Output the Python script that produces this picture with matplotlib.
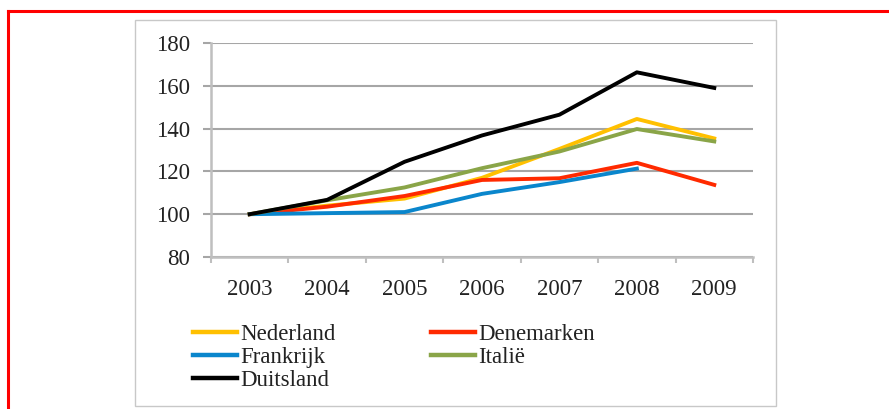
import matplotlib.pyplot as plt
from matplotlib.lines import Line2D
from matplotlib.patches import Rectangle

years = ['2003', '2004', '2005', '2006', '2007', '2008', '2009']
nederland = [100, 104, 107.3, 117, 130.5, 144.5, 135.4]
denemarken = [100, 103.5, 108.5, 116, 116.8, 124, 113.7]
frankrijk = [100, 100.5, 101, 109.5, 115, 121.3]
italie = [100, 106.5, 112.5, 121.5, 129.3, 139.8, 134]
duitsland = [100, 106.7, 124.5, 136.8, 146.5, 166.3, 159]

W, H = 889, 409
plt.rcParams['font.family'] = ['Liberation Serif', 'DejaVu Serif']
fig = plt.figure(figsize=(W / 100, H / 100), dpi=100)

# red frame and grey chart border
fig.add_artist(Line2D([8 / W, 8 / W], [0, 1 - 11 / H], color='#ff0000', lw=2.2))
fig.add_artist(Line2D([8 / W, 1], [1 - 11 / H, 1 - 11 / H], color='#ff0000', lw=2.2))
fig.add_artist(Rectangle((135 / W, 1 - 406 / H), (776 - 135) / W, (406 - 20) / H,
                         fill=False, ec='#c8c8c8', lw=1.0))

ax = fig.add_axes([211 / W, 1 - 257 / H, (753 - 211) / W, (257 - 43) / H])
x = list(range(len(years)))

l_ned, = ax.plot(x, nederland, color='#ffc000', lw=2.8, solid_joinstyle='round')
l_den, = ax.plot(x, denemarken, color='#ff2a00', lw=2.8, solid_joinstyle='round')
l_fra, = ax.plot(x[:len(frankrijk)], frankrijk, color='#0a86cc', lw=2.8, solid_joinstyle='round')
l_ita, = ax.plot(x, italie, color='#8aa548', lw=2.8, solid_joinstyle='round')
l_dui, = ax.plot(x, duitsland, color='#000000', lw=2.8, solid_joinstyle='round')

fs = 16.5
ax.set_xlim(-0.5, len(years) - 0.5)
ax.set_ylim(80, 180)
ax.set_yticks(range(80, 181, 20))
ax.set_xticks(x)
ax.set_xticklabels(years)
ax.set_xticks([i - 0.5 for i in range(len(years) + 1)], minor=True)
ax.tick_params(axis='x', which='major', length=0, pad=16, labelsize=fs, colors='#222222')
ax.tick_params(axis='x', which='minor', length=4, width=1.5, color='#bfbfbf')
ax.tick_params(axis='y', length=6, width=1.5, color='#a6a6a6', pad=9, labelsize=fs,
               labelcolor='#222222')
ax.grid(axis='y', color='#a6a6a6', lw=1.5)
ax.set_axisbelow(True)
for s in ['top', 'right']:
    ax.spines[s].set_visible(False)
for s in ['left', 'bottom']:
    ax.spines[s].set_color('#bfbfbf')
    ax.spines[s].set_linewidth(1.8)

kw = dict(frameon=False, fontsize=fs, handlelength=1.9, handletextpad=0.15,
          labelspacing=0.08, borderpad=0, borderaxespad=0, loc='upper left')
leg1 = fig.legend([l_ned, l_fra, l_dui], ['Nederland', 'Frankrijk', 'Duitsland'],
                  bbox_to_anchor=(193 / W, 1 - 324 / H), **kw)
leg2 = fig.legend([l_den, l_ita], ['Denemarken', 'Italië'],
                  bbox_to_anchor=(431 / W, 1 - 324 / H), **kw)
for leg in (leg1, leg2):
    for t in leg.get_texts():
        t.set_color('#222222')
    for h in leg.get_lines():
        h.set_linewidth(3.2)

fig.savefig('out.png', dpi=100)
